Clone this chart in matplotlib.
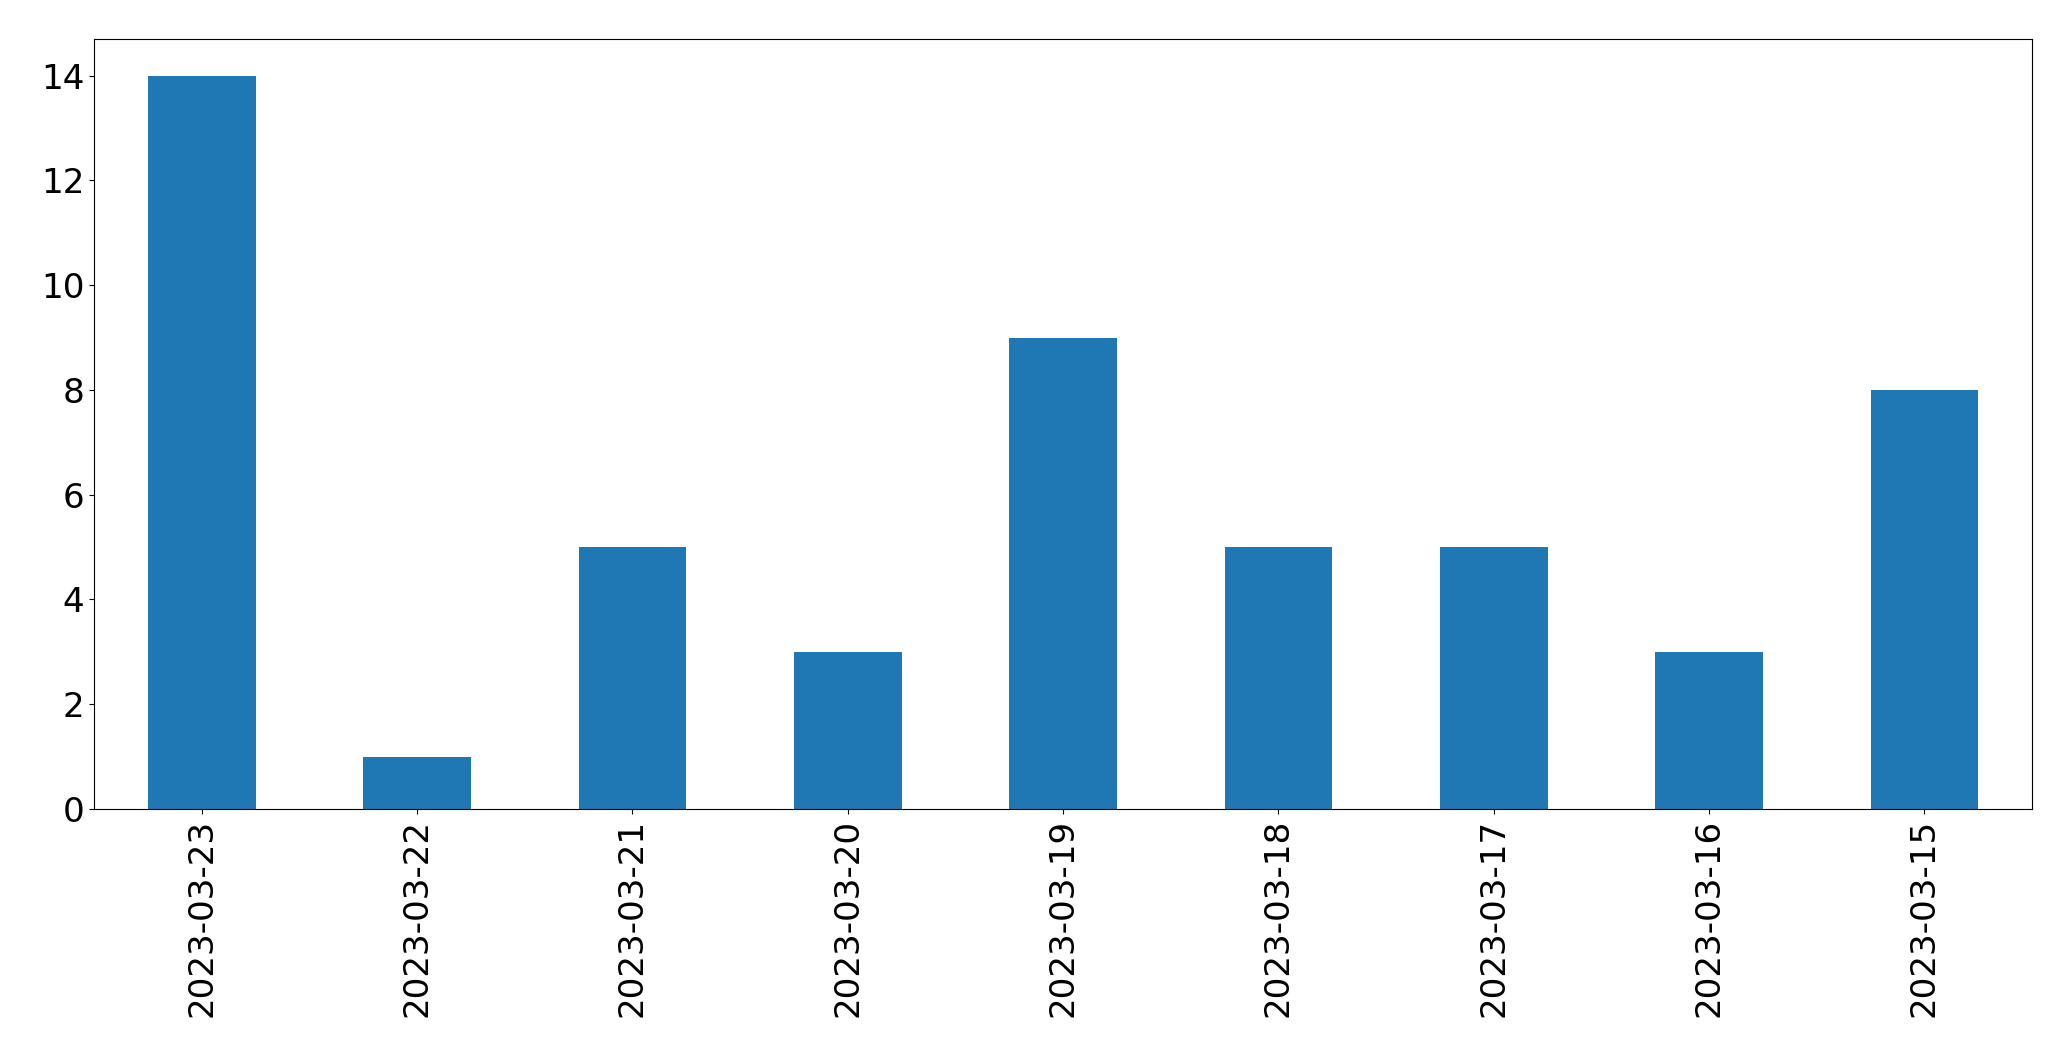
import matplotlib
matplotlib.use("Agg")
import matplotlib.pyplot as plt

dates = ["2023-03-23", "2023-03-22", "2023-03-21", "2023-03-20", "2023-03-19",
         "2023-03-18", "2023-03-17", "2023-03-16", "2023-03-15"]
counts = [14, 1, 5, 3, 9, 5, 5, 3, 8]

fig = plt.figure(figsize=(20.71, 10.61), dpi=100)
ax = fig.add_axes([0.0454, 0.2375, 0.9358, 0.7257])
x = range(len(dates))
ax.bar(x, counts, width=0.5, color="#1f77b4")
ax.set_xlim(-0.5, len(dates) - 0.5)
ax.set_ylim(0, 14.7)
ax.set_xticks(list(x))
ax.set_xticklabels(dates, rotation=90)
ax.set_yticks([0, 2, 4, 6, 8, 10, 12, 14])
ax.tick_params(axis="both", labelsize=24.6)
fig.savefig("out.png", dpi=100)
